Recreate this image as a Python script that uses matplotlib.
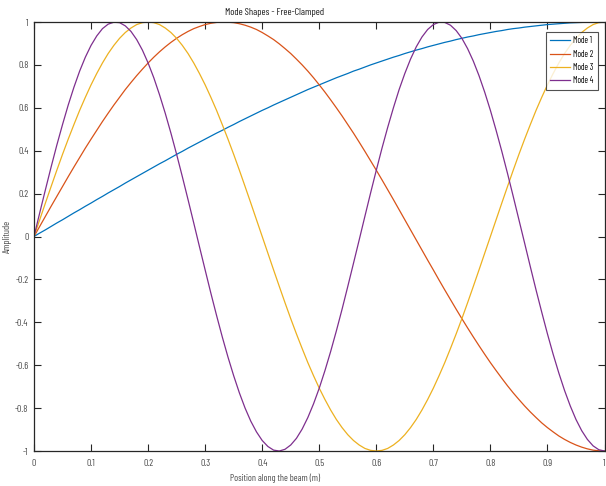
import numpy as np
import matplotlib
matplotlib.use('Agg')
import matplotlib.pyplot as plt
from matplotlib import font_manager

# Узкий шрифт как в MATLAB (сжатый Arial Narrow), берём первый доступный
names = set(f.name for f in font_manager.fontManager.ttflist)
cands = ['Barlow Condensed', 'Roboto Condensed', 'Archivo Narrow', 'Liberation Sans']
fam = [f for f in cands if f in names][:1] + ['DejaVu Sans']
plt.rcParams['font.family'] = fam

# Положение вдоль балки (шаг 0.01)
x = np.linspace(0, 1, 101)

mode1 = [0.000, 0.016, 0.031, 0.047, 0.063, 0.078, 0.094, 0.110, 0.125, 0.141,
         0.156, 0.172, 0.187, 0.203, 0.218, 0.233, 0.249, 0.264, 0.279, 0.294,
         0.309, 0.324, 0.339, 0.353, 0.368, 0.383, 0.397, 0.412, 0.426, 0.440,
         0.454, 0.468, 0.482, 0.495, 0.509, 0.522, 0.536, 0.549, 0.562, 0.575,
         0.588, 0.600, 0.613, 0.625, 0.637, 0.649, 0.661, 0.673, 0.685, 0.696,
         0.707, 0.718, 0.729, 0.740, 0.750, 0.760, 0.771, 0.780, 0.790, 0.800,
         0.809, 0.818, 0.827, 0.836, 0.844, 0.853, 0.861, 0.869, 0.876, 0.884,
         0.891, 0.898, 0.905, 0.911, 0.918, 0.924, 0.930, 0.935, 0.941, 0.946,
         0.951, 0.956, 0.960, 0.965, 0.969, 0.972, 0.976, 0.979, 0.982, 0.985,
         0.988, 0.990, 0.992, 0.994, 0.996, 0.997, 0.998, 0.999, 0.999, 1.000,
         1.000]

mode2 = [0.000, 0.047, 0.094, 0.141, 0.187, 0.233, 0.279, 0.324, 0.368, 0.412,
         0.454, 0.495, 0.536, 0.575, 0.613, 0.649, 0.685, 0.718, 0.750, 0.780,
         0.809, 0.836, 0.861, 0.884, 0.905, 0.924, 0.941, 0.956, 0.969, 0.979,
         0.988, 0.994, 0.998, 1.000, 0.999, 0.997, 0.992, 0.985, 0.976, 0.965,
         0.951, 0.935, 0.918, 0.898, 0.876, 0.853, 0.827, 0.800, 0.771, 0.740,
         0.707, 0.673, 0.637, 0.600, 0.562, 0.522, 0.482, 0.440, 0.397, 0.353,
         0.309, 0.264, 0.218, 0.172, 0.125, 0.078, 0.031, -0.016, -0.063, -0.110,
         -0.156, -0.203, -0.249, -0.294, -0.339, -0.383, -0.426, -0.468, -0.509, -0.549,
         -0.588, -0.625, -0.661, -0.696, -0.729, -0.760, -0.790, -0.818, -0.844, -0.869,
         -0.891, -0.911, -0.930, -0.946, -0.960, -0.972, -0.982, -0.990, -0.996, -0.999,
         -1.000]

mode3 = [0.000, 0.078, 0.156, 0.233, 0.309, 0.383, 0.454, 0.522, 0.588, 0.649,
         0.707, 0.760, 0.809, 0.853, 0.891, 0.924, 0.951, 0.972, 0.988, 0.997,
         1.000, 0.997, 0.988, 0.972, 0.951, 0.924, 0.891, 0.853, 0.809, 0.760,
         0.707, 0.649, 0.588, 0.522, 0.454, 0.383, 0.309, 0.233, 0.156, 0.078,
         0.000, -0.078, -0.156, -0.233, -0.309, -0.383, -0.454, -0.522, -0.588, -0.649,
         -0.707, -0.760, -0.809, -0.853, -0.891, -0.924, -0.951, -0.972, -0.988, -0.997,
         -1.000, -0.997, -0.988, -0.972, -0.951, -0.924, -0.891, -0.853, -0.809, -0.760,
         -0.707, -0.649, -0.588, -0.522, -0.454, -0.383, -0.309, -0.233, -0.156, -0.078,
         0.000, 0.078, 0.156, 0.233, 0.309, 0.383, 0.454, 0.522, 0.588, 0.649,
         0.707, 0.760, 0.809, 0.853, 0.891, 0.924, 0.951, 0.972, 0.988, 0.997,
         1.000]

mode4 = [0.000, 0.110, 0.218, 0.324, 0.426, 0.522, 0.613, 0.696, 0.771, 0.836,
         0.891, 0.935, 0.969, 0.990, 0.999, 0.997, 0.982, 0.956, 0.918, 0.869,
         0.809, 0.740, 0.661, 0.575, 0.482, 0.383, 0.279, 0.172, 0.063, -0.047,
         -0.156, -0.264, -0.368, -0.468, -0.562, -0.649, -0.729, -0.800, -0.861, -0.911,
         -0.951, -0.979, -0.996, -1.000, -0.992, -0.972, -0.941, -0.898, -0.844, -0.780,
         -0.707, -0.625, -0.536, -0.440, -0.339, -0.233, -0.125, -0.016, 0.094, 0.203,
         0.309, 0.412, 0.509, 0.600, 0.685, 0.760, 0.827, 0.884, 0.930, 0.965,
         0.988, 0.999, 0.998, 0.985, 0.960, 0.924, 0.876, 0.818, 0.750, 0.673,
         0.588, 0.495, 0.397, 0.294, 0.187, 0.078, -0.031, -0.141, -0.249, -0.353,
         -0.454, -0.549, -0.637, -0.718, -0.790, -0.853, -0.905, -0.946, -0.976, -0.994,
         -1.000]

modes = [mode1, mode2, mode3, mode4]
labels = ['Mode 1', 'Mode 2', 'Mode 3', 'Mode 4']
colors = ['#0072BD', '#D95319', '#EDB120', '#7E2F8E']

xticks = [0, 0.1, 0.2, 0.3, 0.4, 0.5, 0.6, 0.7, 0.8, 0.9, 1]
xtick_labels = ['0', '0.1', '0.2', '0.3', '0.4', '0.5', '0.6', '0.7', '0.8', '0.9', '1']
yticks = [-1, -0.8, -0.6, -0.4, -0.2, 0, 0.2, 0.4, 0.6, 0.8, 1]
ytick_labels = ['-1', '-0.8', '-0.6', '-0.4', '-0.2', '0', '0.2', '0.4', '0.6', '0.8', '1']

fig = plt.figure(figsize=(6.06, 4.86), dpi=100)
ax = fig.add_axes([34/606, 1 - 451/486, 570.5/606, 429/486])

for y, lab, c in zip(modes, labels, colors):
    ax.plot(x, y, color=c, lw=0.9, label=lab)

ax.set_xlim(0, 1)
ax.set_ylim(-1, 1)
ax.set_xticks(xticks)
ax.set_xticklabels(xtick_labels)
ax.set_yticks(yticks)
ax.set_yticklabels(ytick_labels)

dark = '#262626'
for s in ax.spines.values():
    s.set_color(dark)
    s.set_linewidth(0.9)
ax.tick_params(direction='in', length=5, width=0.8, colors=dark, labelcolor='#4a4a4a',
               labelsize=7, top=True, right=True)
ax.tick_params(axis='x', pad=6)
ax.tick_params(axis='y', pad=4)

# В оригинале заголовок и подпись оси X сдвинуты левее центра осей
ax.set_title('Mode Shapes - Free-Clamped', fontsize=7.2, color='#1a1a1a', pad=5,
             x=(275 - 34)/570.5)
ax.set_xlabel('Position along the beam (m)', fontsize=6.8, color='#4a4a4a')
ax.xaxis.set_label_coords((275 - 34)/570.5, -22/429)
ax.set_ylabel('Amplitude', fontsize=7, color='#4a4a4a')
ax.yaxis.set_label_coords(-22/570.5, 0.5)

leg = ax.legend(loc='upper right', fontsize=6.2, frameon=True, fancybox=False,
                borderaxespad=0.0, bbox_to_anchor=(564/570.5, 1 - 10/429),
                handlelength=2.3, handletextpad=0.4,
                labelspacing=0.5, borderpad=0.5)
leg.get_frame().set_edgecolor(dark)
leg.get_frame().set_linewidth(0.8)

fig.savefig('out.png', dpi=100)
